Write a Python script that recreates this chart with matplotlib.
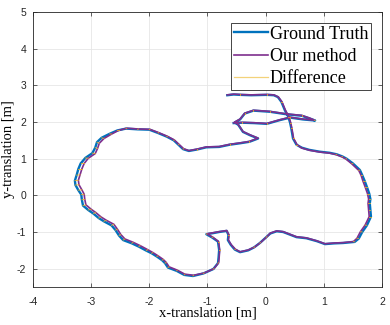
import matplotlib
matplotlib.use("Agg")
from matplotlib import pyplot as plt
import numpy as np

# ground truth trajectory
gt_x = [-0.66, -0.55, -0.44, -0.25, 0.02, 0.14, 0.21, 0.27, 0.33, 0.39,
        0.42, 0.44, 0.47, 0.53, 0.62, 0.75, 0.93, 1.10, 1.22, 1.32,
        1.39, 1.50, 1.62, 1.66, 1.70, 1.74, 1.78, 1.80, 1.79, 1.80,
        1.81, 1.74, 1.66, 1.60, 1.53, 1.33, 1.18, 1.02, 0.88, 0.70,
        0.53, 0.40, 0.30, 0.19, 0.08, 0.01, -0.10, -0.20, -0.30, -0.44,
        -0.53, -0.60, -0.65, -0.64, -0.67, -0.80, -0.90, -1.02, -0.92, -0.82,
        -0.80, -0.81, -0.82, -0.90, -1.07, -1.25, -1.40, -1.53, -1.68, -1.73,
        -1.78, -1.87, -1.96, -2.05, -2.18, -2.30, -2.45, -2.52, -2.58, -2.65,
        -2.78, -2.87, -2.96, -3.05, -3.14, -3.16, -3.17, -3.22, -3.27, -3.28,
        -3.25, -3.22, -3.18, -3.10, -2.98, -2.93, -2.90, -2.82, -2.68, -2.55,
        -2.40, -2.20, -2.00, -1.85, -1.70, -1.58, -1.50, -1.42, -1.32, -1.18,
        -1.02, -0.80, -0.62, -0.44, -0.28, -0.13, -0.27, -0.39, -0.47, -0.53,
        -0.44, -0.36, -0.21, 0.07, 0.36, 0.62, 0.75, 0.85, 0.64, 0.42,
        0.24, 0.02, -0.20, -0.40, -0.55]
gt_y = [2.73, 2.75, 2.74, 2.73, 2.74, 2.73, 2.68, 2.55, 2.32, 2.14,
        1.98, 1.83, 1.55, 1.38, 1.30, 1.24, 1.19, 1.16, 1.12, 1.06,
        1.00, 0.87, 0.69, 0.55, 0.40, 0.23, 0.05, -0.10, -0.22, -0.40,
        -0.58, -0.82, -1.00, -1.18, -1.27, -1.30, -1.31, -1.33, -1.25, -1.17,
        -1.14, -1.06, -1.00, -0.98, -1.04, -1.14, -1.30, -1.42, -1.50, -1.55,
        -1.48, -1.35, -1.22, -1.08, -0.97, -1.00, -1.03, -1.06, -1.15, -1.26,
        -1.49, -1.70, -1.85, -2.01, -2.13, -2.20, -2.17, -2.06, -1.97, -1.85,
        -1.77, -1.67, -1.58, -1.51, -1.40, -1.31, -1.22, -1.10, -0.95, -0.82,
        -0.71, -0.62, -0.50, -0.40, -0.28, -0.12, 0.02, 0.14, 0.28, 0.40,
        0.55, 0.72, 0.87, 1.02, 1.15, 1.30, 1.45, 1.57, 1.68, 1.77,
        1.82, 1.80, 1.79, 1.70, 1.60, 1.50, 1.38, 1.26, 1.21, 1.25,
        1.31, 1.32, 1.38, 1.42, 1.46, 1.55, 1.64, 1.73, 1.92, 1.99,
        2.07, 2.23, 2.31, 2.28, 2.21, 2.17, 2.10, 2.04, 2.07, 2.12,
        2.05, 1.95, 1.97, 1.98, 1.97]

# estimated trajectory
est_x = [-0.66, -0.55, -0.44, -0.25, 0.02, 0.14, 0.22, 0.28, 0.34, 0.40,
         0.43, 0.45, 0.48, 0.54, 0.62, 0.75, 0.93, 1.10, 1.21, 1.31,
         1.38, 1.48, 1.60, 1.64, 1.67, 1.71, 1.75, 1.77, 1.76, 1.77,
         1.78, 1.71, 1.63, 1.57, 1.51, 1.33, 1.18, 1.02, 0.88, 0.70,
         0.53, 0.40, 0.30, 0.19, 0.08, 0.02, -0.09, -0.19, -0.30, -0.44,
         -0.52, -0.59, -0.64, -0.63, -0.67, -0.80, -0.90, -1.01, -0.91, -0.81,
         -0.79, -0.80, -0.81, -0.89, -1.06, -1.24, -1.39, -1.52, -1.66, -1.71,
         -1.76, -1.85, -1.94, -2.03, -2.16, -2.28, -2.42, -2.49, -2.55, -2.61,
         -2.74, -2.83, -2.92, -3.00, -3.09, -3.11, -3.12, -3.16, -3.21, -3.22,
         -3.19, -3.16, -3.12, -3.05, -2.93, -2.89, -2.86, -2.78, -2.65, -2.53,
         -2.39, -2.19, -1.99, -1.84, -1.69, -1.57, -1.49, -1.41, -1.32, -1.18,
         -1.02, -0.80, -0.62, -0.44, -0.28, -0.13, -0.27, -0.39, -0.47, -0.53,
         -0.44, -0.36, -0.21, 0.07, 0.36, 0.62, 0.75, 0.84, 0.64, 0.42,
         0.24, 0.02, -0.20, -0.40, -0.55]
est_y = [2.74, 2.76, 2.75, 2.74, 2.75, 2.74, 2.68, 2.55, 2.32, 2.14,
         1.98, 1.83, 1.55, 1.38, 1.29, 1.23, 1.18, 1.15, 1.11, 1.05,
         0.99, 0.86, 0.68, 0.55, 0.40, 0.23, 0.05, -0.10, -0.22, -0.40,
         -0.58, -0.81, -0.99, -1.17, -1.26, -1.29, -1.30, -1.32, -1.24, -1.16,
         -1.13, -1.05, -0.99, -0.97, -1.03, -1.13, -1.29, -1.41, -1.49, -1.54,
         -1.47, -1.35, -1.22, -1.08, -0.96, -0.99, -1.02, -1.05, -1.14, -1.26,
         -1.49, -1.70, -1.84, -2.00, -2.12, -2.18, -2.15, -2.04, -1.95, -1.83,
         -1.75, -1.65, -1.56, -1.48, -1.37, -1.28, -1.19, -1.07, -0.92, -0.79,
         -0.68, -0.59, -0.47, -0.38, -0.26, -0.11, 0.03, 0.15, 0.29, 0.41,
         0.56, 0.72, 0.87, 1.01, 1.14, 1.28, 1.42, 1.55, 1.67, 1.77,
         1.83, 1.81, 1.80, 1.71, 1.61, 1.51, 1.39, 1.27, 1.22, 1.26,
         1.32, 1.33, 1.39, 1.43, 1.47, 1.56, 1.65, 1.74, 1.93, 2.00,
         2.08, 2.24, 2.32, 2.29, 2.22, 2.18, 2.11, 2.05, 2.08, 2.13,
         2.06, 1.96, 1.98, 1.99, 1.98]

x_ticks = [-4, -3, -2, -1, 0, 1, 2]
y_ticks = [-2, -1, 0, 1, 2, 3, 4, 5]

plt.rcParams["axes.unicode_minus"] = False

fig = plt.figure(figsize=(3.9, 3.25), dpi=100)
ax = fig.add_axes([0.0846, 0.1169, 0.8949, 0.8462])

ax.plot(gt_x, gt_y, color="#0072BD", lw=1.7, label="Ground Truth", zorder=3)
ax.plot(est_x, est_y, color="#7E2F8E", lw=1.2, label="Our method", zorder=4)
for i, (gx, gy, ex, ey) in enumerate(zip(gt_x, gt_y, est_x, est_y)):
    ax.plot([gx, ex], [gy, ey], color="#EDB120", lw=0.7, alpha=0.8,
            label="Difference" if i == 0 else None, zorder=5)

ax.set_xlim(-4, 2)
ax.set_ylim(-2.5, 5)
ax.set_xticks(x_ticks)
ax.set_yticks(y_ticks)
ax.tick_params(direction="in", length=3, width=0.5, colors="#262626",
               labelsize=7.5, top=True, right=True)
for label in ax.get_xticklabels() + ax.get_yticklabels():
    label.set_family("Liberation Sans")
ax.tick_params(axis="x", pad=7)
ax.tick_params(axis="y", pad=5)
ax.grid(True, color="#e6e6e6", lw=0.6)
ax.set_axisbelow(True)
for s in ax.spines.values():
    s.set_color("#262626")
    s.set_linewidth(0.6)

ax.set_xlabel("x-translation [m]", family="Liberation Serif", fontsize=10.5,
              labelpad=0)
ax.set_ylabel("y-translation [m]", family="Liberation Serif", fontsize=10.5,
              labelpad=1)

leg = ax.legend(loc="upper right", prop={"family": "Liberation Serif", "size": 13},
                fancybox=False, framealpha=1, edgecolor="#262626",
                handlelength=1.9, handletextpad=0.1, labelspacing=0.3,
                borderpad=0.15, borderaxespad=0.6)
leg.get_frame().set_linewidth(0.6)
leg.legend_handles[2].set_alpha(1)
leg.legend_handles[2].set_linewidth(0.9)
leg.legend_handles[2].set_color("#F3D27A")

fig.savefig("out.png", dpi=100)
